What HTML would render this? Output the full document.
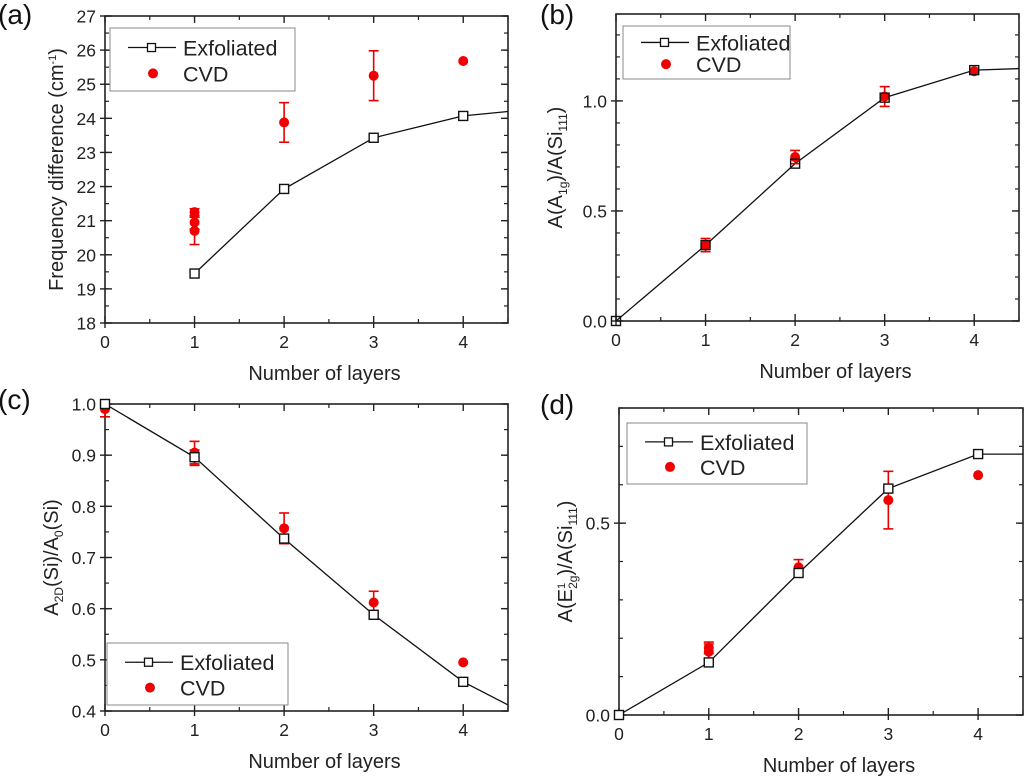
<!DOCTYPE html>
<html><head><meta charset="utf-8"><style>
html,body{margin:0;padding:0;background:#fff;}
svg{display:block;font-family:"Liberation Sans",sans-serif;}
</style></head><body>
<svg id="fig" width="1024" height="777" viewBox="0 0 1024 777" xmlns="http://www.w3.org/2000/svg"></svg>
<script>
// Panel (a)
const xsA = [1, 2, 3, 4, 4.5];
const exfA = [19.45, 21.93, 23.43, 24.07, 24.2];
const cvdXA = [1, 1, 1, 2, 3, 4];
const cvdYA = [20.7, 20.95, 21.25, 23.88, 25.25, 25.68];
const cvdEA = [0.4, 0.2, 0.1, 0.58, 0.73, 0];
const yTicksA = [18, 19, 20, 21, 22, 23, 24, 25, 26, 27];
// Panel (b)
const xsB = [0, 1, 2, 3, 4, 4.5];
const exfB = [0, 0.345, 0.715, 1.015, 1.14, 1.147];
const cvdXB = [1, 2, 3, 4];
const cvdYB = [0.345, 0.745, 1.02, 1.135];
const cvdEB = [0.03, 0.03, 0.045, 0];
const yTicksB = [0, 0.5, 1.0];
// Panel (c)
const xsC = [0, 1, 2, 3, 4, 4.5];
const exfC = [1.0, 0.896, 0.737, 0.588, 0.457, 0.412];
const cvdXC = [0, 1, 1, 2, 3, 4];
const cvdYC = [0.99, 0.905, 0.895, 0.757, 0.612, 0.495];
const cvdEC = [0.015, 0.022, 0.015, 0.03, 0.022, 0];
const yTicksC = [0.4, 0.5, 0.6, 0.7, 0.8, 0.9, 1.0];
// Panel (d)
const xsD = [0, 1, 2, 3, 4, 4.5];
const exfD = [0, 0.137, 0.37, 0.59, 0.68, 0.68];
const cvdXD = [1, 1, 2, 3, 4];
const cvdYD = [0.165, 0.175, 0.385, 0.56, 0.625];
const cvdED = [0.02, 0.015, 0.02, 0.075, 0];
const yTicksD = [0, 0.5];
const xTicks = [0, 1, 2, 3, 4];

const NS = "http://www.w3.org/2000/svg";
const svg = document.getElementById('fig');
function mk(tag, attrs, parent, text){
  const e = document.createElementNS(NS, tag);
  for (const k in attrs) e.setAttribute(k, attrs[k]);
  if (text !== undefined) e.textContent = text;
  (parent || svg).appendChild(e);
  return e;
}
function panel(o){
  const g = mk('g', {});
  
  
  const X = v => o.x0 + (v - 0) / 4.5 * (o.x1 - o.x0);
  const Y = v => o.y1 - (v - o.ymin) / (o.ymax - o.ymin) * (o.y1 - o.y0);
  for (let v = o.ymin; v <= o.ymax + 1e-9; v += o.minor) {
    const y = Y(v);
    mk('line', {x1:o.x0, x2:o.x0+4, y1:y, y2:y, stroke:'#222', 'stroke-width':1.2}, g);
    mk('line', {x1:o.x1, x2:o.x1-4, y1:y, y2:y, stroke:'#222', 'stroke-width':1.2}, g);
  }
  for (let v = 0.5; v <= 4.5; v += 1) {
    const x = X(v);
    mk('line', {x1:x, x2:x, y1:o.y1, y2:o.y1-4, stroke:'#222', 'stroke-width':1.2}, g);
    mk('line', {x1:x, x2:x, y1:o.y0, y2:o.y0+4, stroke:'#222', 'stroke-width':1.2}, g);
  }
  o.yTicks.forEach(v => {
    const y = Y(v);
    mk('line', {x1:o.x0-5, x2:o.x0+7, y1:y, y2:y, stroke:'#222', 'stroke-width':1.4}, g);
    mk('line', {x1:o.x1, x2:o.x1-7, y1:y, y2:y, stroke:'#222', 'stroke-width':1.4}, g);
    const t = mk('text', {x:o.x0-9, y:y+6.5, 'text-anchor':'end', 'font-size':17.5, fill:'#222'}, g, o.fmt(v));
    
    
  });
  xTicks.forEach(v => {
    const x = X(v);
    mk('line', {x1:x, x2:x, y1:o.y1+5, y2:o.y1-7, stroke:'#222', 'stroke-width':1.4}, g);
    mk('line', {x1:x, x2:x, y1:o.y0, y2:o.y0+7, stroke:'#222', 'stroke-width':1.4}, g);
    const t = mk('text', {x:x, y:o.y1+25, 'text-anchor':'middle', 'font-size':17.5, fill:'#222'}, g, String(v));
    
    
  });
  const fr = mk('rect', {x:o.x0, y:o.y0, width:o.x1-o.x0, height:o.y1-o.y0, fill:'none', stroke:'#222', 'stroke-width':1.6}, g);
  
  
  const pts = o.xs.map((x, i) => X(x).toFixed(1) + ',' + Y(o.exf[i]).toFixed(1)).join(' ');
  const pl = mk('polyline', {points:pts, fill:'none', stroke:'#111', 'stroke-width':1.3}, g);
  
  
  o.cx.forEach((x, i) => {
    const cx = X(x), cy = Y(o.cy[i]), e = o.ce[i];
    if (e > 0) {
      const ya = Y(o.cy[i] + e), yb = Y(o.cy[i] - e);
      mk('line', {x1:cx, x2:cx, y1:ya, y2:yb, stroke:'#e60000', 'stroke-width':1.6}, g);
      mk('line', {x1:cx-5, x2:cx+5, y1:ya, y2:ya, stroke:'#e60000', 'stroke-width':1.6}, g);
      mk('line', {x1:cx-5, x2:cx+5, y1:yb, y2:yb, stroke:'#e60000', 'stroke-width':1.6}, g);
    }
    const c = mk('circle', {cx:cx, cy:cy, r:5, fill:'#f00000'}, g);
    
    
  });
  o.xs.forEach((x, i) => {
    if (x > 4) return;
    const r = mk('rect', {x:X(x)-4.5, y:Y(o.exf[i])-4.5, width:9, height:9, fill:'#fff', 'fill-opacity':o.fillSq?0:1, stroke:'#111', 'stroke-width':1.4}, g);
    
    
  });
  const xt = mk('text', {x:(o.x0+o.x1)/2 + 18, y:o.y1+57, 'text-anchor':'middle', 'font-size':20, fill:'#222'}, g, 'Number of layers');
  
  
  const yt = mk('text', {transform:`translate(${o.ytx},${(o.y0+o.y1)/2}) rotate(-90)`, 'text-anchor':'middle', 'font-size':20, fill:'#222'}, g);
  yt.innerHTML = o.ytitle;
  
  
  const pl2 = mk('text', {x:o.lx, y:o.ly, 'font-size':28, fill:'#111'}, g, '(' + o.id + ')');
  
  
  const L = o.leg;
  const lg = mk('g', {}, g);
  
  
  mk('rect', {x:L[0], y:L[1], width:L[2], height:L[3], fill:'#fff', stroke:'#888', 'stroke-width':1}, lg);
  const ly1 = L[1] + L[3]*0.31, ly2 = L[1] + L[3]*0.72;
  mk('line', {x1:L[0]+18, x2:L[0]+66, y1:ly1, y2:ly1, stroke:'#111', 'stroke-width':1.3}, lg);
  mk('rect', {x:L[0]+37.5, y:ly1-4, width:8, height:8, fill:'#fff', stroke:'#111', 'stroke-width':1.3}, lg);
  mk('circle', {cx:L[0]+43, cy:ly2, r:5, fill:'#f00000'}, lg);
  mk('text', {x:L[0]+73, y:ly1+8, 'font-size':21.5, fill:'#222'}, lg, 'Exfoliated');
  mk('text', {x:L[0]+73, y:ly2+8, 'font-size':21.5, fill:'#222'}, lg, 'CVD');
}
panel({id:'a', x0:105, x1:508, y0:16, y1:323, ymin:18, ymax:27, minor:0.5, yTicks:yTicksA, fmt:v=>String(v),
  xs:xsA, exf:exfA, cx:cvdXA, cy:cvdYA, ce:cvdEA, ytx:63, lx:-2, ly:24, leg:[110,28,185,63],
  ytitle:'Frequency difference (cm<tspan dy="-7" font-size="11">-1</tspan><tspan dy="7">)</tspan>'});
panel({id:'b', x0:616, x1:1019, y0:14, y1:321, ymin:0, ymax:1.395, minor:0.1, yTicks:yTicksB, fmt:v=>v.toFixed(1),
  xs:xsB, exf:exfB, cx:cvdXB, cy:cvdYB, ce:cvdEB, ytx:562, lx:540, ly:24, leg:[623,26,167,53], fillSq:true,
  ytitle:'A(A<tspan dy="5" font-size="12">1g</tspan><tspan dy="-5">)/A(Si</tspan><tspan dy="5" font-size="12">111</tspan><tspan dy="-5">)</tspan>'});
panel({id:'c', x0:105, x1:508, y0:404, y1:711, ymin:0.4, ymax:1.0, minor:0.05, yTicks:yTicksC, fmt:v=>v.toFixed(1),
  xs:xsC, exf:exfC, cx:cvdXC, cy:cvdYC, ce:cvdEC, ytx:58, lx:-2, ly:409, leg:[107,643,181,62],
  ytitle:'A<tspan dy="5" font-size="12">2D</tspan><tspan dy="-5">(Si)/A</tspan><tspan dy="5" font-size="12">0</tspan><tspan dy="-5">(Si)</tspan>'});
panel({id:'d', x0:619, x1:1023, y0:408, y1:715, ymin:0, ymax:0.8, minor:0.1, yTicks:yTicksD, fmt:v=>v.toFixed(1),
  xs:xsD, exf:exfD, cx:cvdXD, cy:cvdYD, ce:cvdED, ytx:572, lx:540, ly:414, leg:[627,423,180,61],
  ytitle:'A(E<tspan dy="-7" font-size="11">1</tspan><tspan dy="12" dx="-6" font-size="12">2g</tspan><tspan dy="-5">)/A(Si</tspan><tspan dy="5" font-size="12">111</tspan><tspan dy="-5">)</tspan>'});
</script>
</body></html>
